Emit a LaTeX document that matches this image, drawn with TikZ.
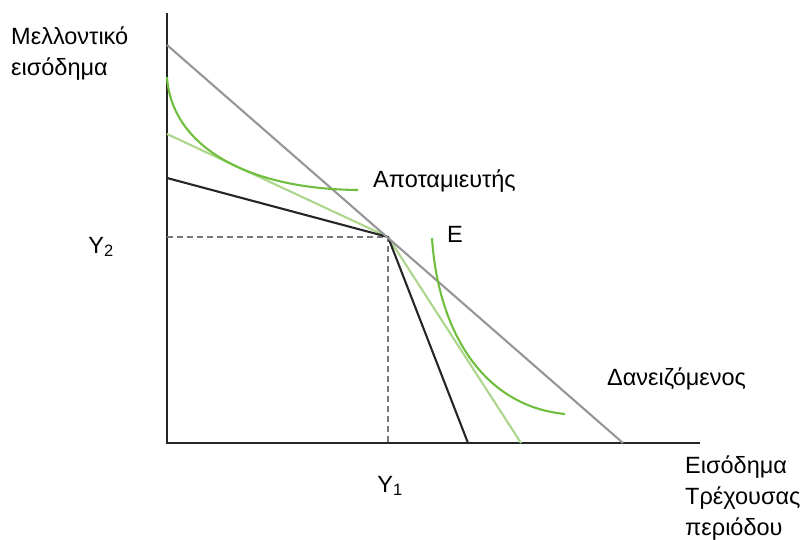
\documentclass[tikz,border=0pt]{standalone}
\usepackage{fontspec}
\setmainfont{Liberation Sans}
\usetikzlibrary{positioning}
\definecolor{axisgray}{RGB}{150,150,150}
\definecolor{lightgreen}{RGB}{172,214,140}
\definecolor{curvegreen}{RGB}{112,190,62}
\definecolor{dashgray}{RGB}{120,120,120}

\begin{document}
\begin{tikzpicture}[x=1pt,y=-1pt]
\tikzstyle{L}=[font=\fontsize{23.5}{31}\selectfont,inner sep=0pt,align=left]
\tikzstyle{ln}=[line width=2.1pt]
\useasboundingbox (0,0) rectangle (800,540);
% axes
\coordinate (O) at (167,443);
\coordinate (ytop) at (167,13);
\coordinate (xend) at (700,443);
\draw[line width=1.5pt,black!85] (ytop)--(O)--(xend);
% budget lines
\coordinate (E) at (388,237);
\coordinate (g0) at (167,45);
\coordinate (g1) at (623,443);
\coordinate (lg0) at (167,134);
\coordinate (lg1) at (521,443);
\coordinate (b0) at (167,178);
\coordinate (b1) at (468,443);
\coordinate (Y2) at (167,237);
\coordinate (Y1) at (388,443);
\draw[ln,dashgray,dash pattern=on 6pt off 4pt] (Y2)--(E)--(Y1);
\draw[ln,lightgreen] (lg0)--(E)--(lg1);
\draw[ln,black!85] (b0)--(E)--(b1);
\draw[ln,axisgray] (g0)--(g1);
% indifference curves
\draw[ln,curvegreen] (167,77) .. controls (171,142) and (240,189) .. (358,190);
\draw[ln,curvegreen] (432,238) .. controls (438,330) and (482,406) .. (565,414);
% labels
\node[L,anchor=north west] (yl) at (11,27) {Μελλοντικό\\εισόδημα};
\node[L,anchor=north west] (xl) at (685,456) {Εισόδημα\\Τρέχουσας\\περιόδου};
\node[L,anchor=base] (y2l) at (101,253) {Y\textsubscript{2}};
\node[L,anchor=base] (y1l) at (390,492) {Y\textsubscript{1}};
\node[L,anchor=base] (el) at (455,242) {E};
\node[L,anchor=base west] (sav) at (373,188) {Αποταμιευτής};
\node[L,anchor=base west] (bor) at (607,385) {Δανειζόμενος};
\end{tikzpicture}
\end{document}
